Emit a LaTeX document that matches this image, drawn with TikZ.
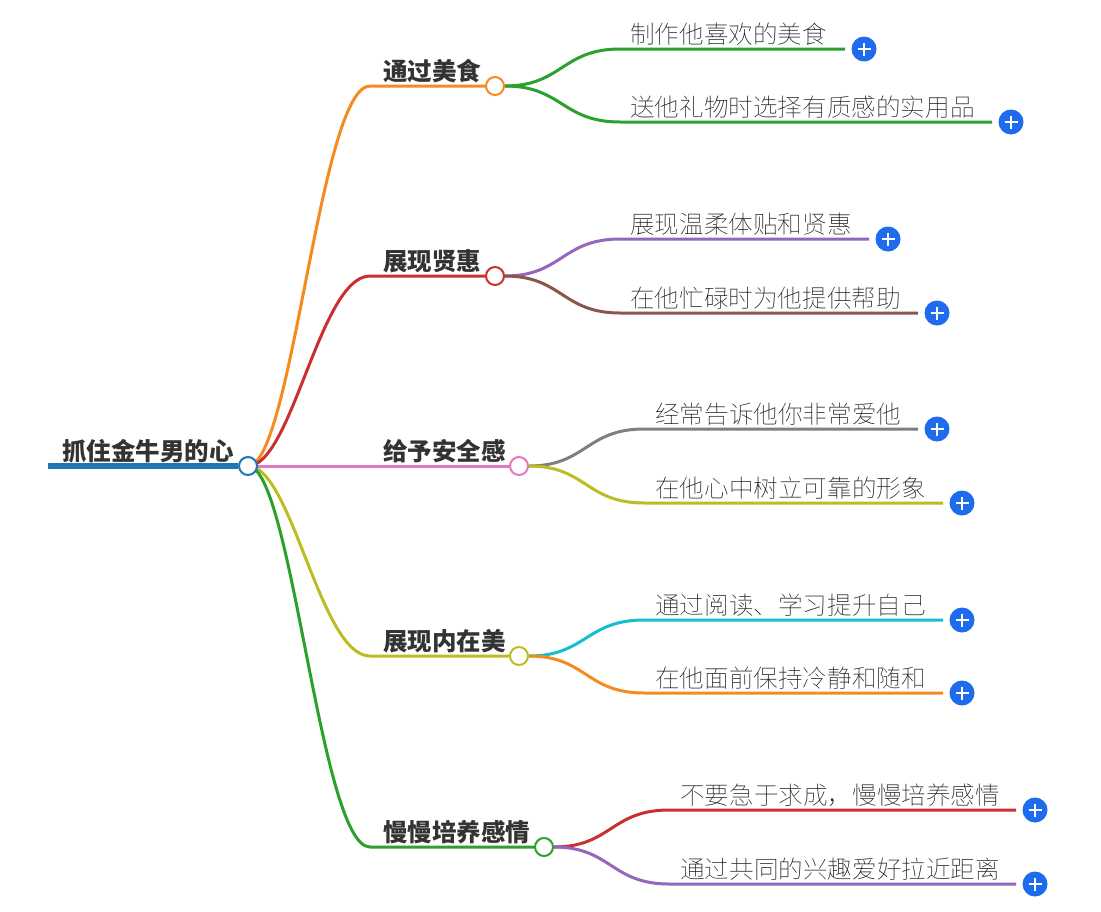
\documentclass[tikz,border=0pt]{standalone}
\usepackage{fontspec}
\setmainfont{Noto Sans CJK SC}[UprightFont=* Thin,BoldFont=* Black]
\usepackage{tikz}
\usetikzlibrary{calc,backgrounds}
\definecolor{myblue}{HTML}{1F77B4}
\definecolor{myorange}{HTML}{F58A1F}
\definecolor{myred}{HTML}{C9302F}
\definecolor{mypink}{HTML}{E377C2}
\definecolor{myolive}{HTML}{BCBD22}
\definecolor{mygreen}{HTML}{2CA02C}
\definecolor{mypurple}{HTML}{9467BD}
\definecolor{mybrown}{HTML}{8C564B}
\definecolor{mygrey}{HTML}{7F7F7F}
\definecolor{mycyan}{HTML}{17BECF}
\definecolor{myplus}{HTML}{1F6BEE}
\tikzset{
	hub/.style={circle,draw=#1,fill=white,line width=2pt,minimum size=18pt,inner sep=0pt},
	toplabel/.style={anchor=base west,inner sep=0pt,font=\bfseries\fontsize{24.5}{24.5}\selectfont,text=black!80},
	leaflabel/.style={anchor=base west,inner sep=0pt,font=\fontsize{24.6}{24.6}\selectfont,text=black!90},
	wire/.style={line width=3pt,draw=#1},
	plusbtn/.style={circle,fill=myplus,minimum size=25pt,inner sep=0pt,
		path picture={\draw [white,line width=2.2pt] ($(path picture bounding box.center)+(-6.5,0)$) -- ++(13,0) ($(path picture bounding box.center)+(0,-6.5)$) -- ++(0,13);}}
}
\begin{document}
\begin{tikzpicture}[x=1pt,y=-1pt]
	\useasboundingbox (0,0) rectangle (1101,911);
	% root
	\coordinate (rootstart) at (48,466);
	\node [hub=myblue] (root) at (248,466) {};
	\node [toplabel] (roottext) at (62,460.5) {抓住金牛男的心};
	% hubs of the five branches
	\node [hub=myorange] (food) at (495,86) {};
	\node [hub=myred] (virtue) at (495,276) {};
	\node [hub=mypink] (safe) at (519,466) {};
	\node [hub=myolive] (inner) at (519,656) {};
	\node [hub=mygreen] (slow) at (544,847) {};
	\node [toplabel] (foodtext) at (383,80.5) {通过美食};
	\node [toplabel] (virtuetext) at (383,270.5) {展现贤惠};
	\node [toplabel] (safetext) at (383,460.5) {给予安全感};
	\node [toplabel] (innertext) at (383,650.5) {展现内在美};
	\node [toplabel] (slowtext) at (383,841.5) {慢慢培养感情};
	\coordinate (foodbend) at (370,86);
	\coordinate (virtuebend) at (370,276);
	\coordinate (innerbend) at (370,656);
	\coordinate (slowbend) at (370,847);
	% leaf ends and buttons
	\node [plusbtn] (plusa) at (864,49) {};
	\node [plusbtn] (plusb) at (1011,122) {};
	\node [plusbtn] (plusc) at (888,239) {};
	\node [plusbtn] (plusd) at (937,313) {};
	\node [plusbtn] (pluse) at (937,429) {};
	\node [plusbtn] (plusf) at (962,503) {};
	\node [plusbtn] (plusg) at (962,620) {};
	\node [plusbtn] (plush) at (962,693) {};
	\node [plusbtn] (plusi) at (1035,810) {};
	\node [plusbtn] (plusj) at (1035,884) {};
	\node [leaflabel] (leafa) at (630,43.5) {制作他喜欢的美食};
	\node [leaflabel] (leafb) at (630,116.5) {送他礼物时选择有质感的实用品};
	\node [leaflabel] (leafc) at (630,233.5) {展现温柔体贴和贤惠};
	\node [leaflabel] (leafd) at (630,307.5) {在他忙碌时为他提供帮助};
	\node [leaflabel] (leafe) at (655,423.5) {经常告诉他你非常爱他};
	\node [leaflabel] (leaff) at (655,497.5) {在他心中树立可靠的形象};
	\node [leaflabel] (leafg) at (655,614.5) {通过阅读、学习提升自己};
	\node [leaflabel] (leafh) at (655,687.5) {在他面前保持冷静和随和};
	\node [leaflabel] (leafi) at (680,804.5) {不要急于求成，慢慢培养感情};
	\node [leaflabel] (leafj) at (680,878.5) {通过共同的兴趣爱好拉近距离};
	\begin{scope}[on background layer]
	% root line and branches
	\draw [myblue,line width=6pt] (rootstart) -- (root.west);
	\draw [wire=myorange] (root.center) .. controls (292,466) and (320,86) .. (foodbend) -- (food.west);
	\draw [wire=myred] (root.center) .. controls (292,466) and (320,276) .. (virtuebend) -- (virtue.west);
	\draw [wire=mypink] (root.east) -- (safe.west);
	\draw [wire=myolive] (root.center) .. controls (292,466) and (320,656) .. (innerbend) -- (inner.west);
	\draw [wire=mygreen] (root.center) .. controls (292,466) and (320,847) .. (slowbend) -- (slow.west);
	% leaves
	\draw [wire=mygreen] (food.east) .. controls (562,86) and (562,49) .. (620,49) -- (plusa.west -| 845,0);
	\draw [wire=mygreen] (food.east) .. controls (562,86) and (562,122) .. (620,122) -- (plusb.west -| 992,0);
	\draw [wire=mypurple] (virtue.east) .. controls (562,276) and (562,239) .. (620,239) -- (plusc.west -| 869,0);
	\draw [wire=mybrown] (virtue.east) .. controls (562,276) and (562,313) .. (620,313) -- (plusd.west -| 918,0);
	\draw [wire=mygrey] (safe.east) .. controls (586,466) and (586,429) .. (644,429) -- (pluse.west -| 918,0);
	\draw [wire=myolive] (safe.east) .. controls (586,466) and (586,503) .. (644,503) -- (plusf.west -| 943,0);
	\draw [wire=mycyan] (inner.east) .. controls (586,656) and (586,620) .. (644,620) -- (plusg.west -| 943,0);
	\draw [wire=myorange] (inner.east) .. controls (586,656) and (586,693) .. (644,693) -- (plush.west -| 943,0);
	\draw [wire=myred] (slow.east) .. controls (611,847) and (611,810) .. (669,810) -- (plusi.west -| 1016,0);
	\draw [wire=mypurple] (slow.east) .. controls (611,847) and (611,884) .. (669,884) -- (plusj.west -| 1016,0);
	\end{scope}
\end{tikzpicture}
\end{document}
